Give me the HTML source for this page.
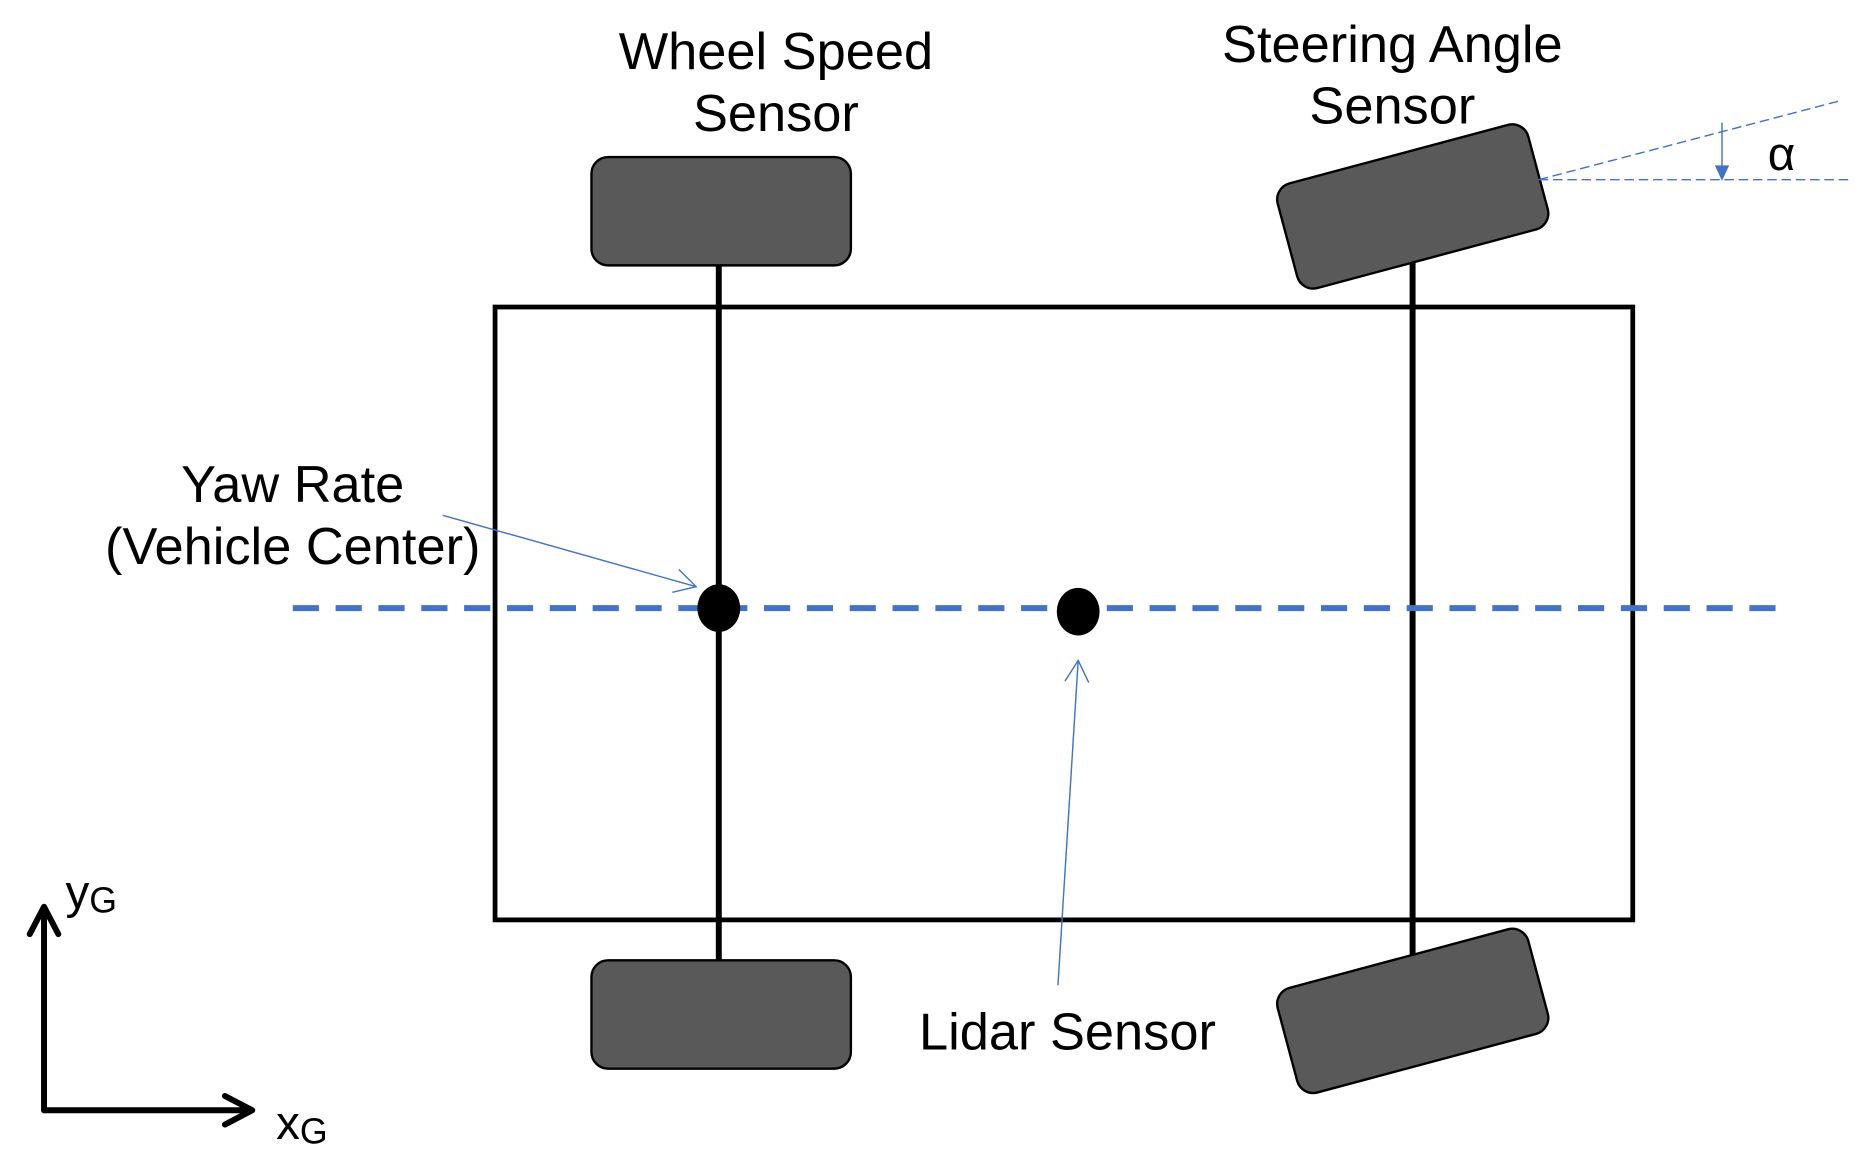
<!DOCTYPE html>
<html><head><meta charset="utf-8"><style>html,body{margin:0;padding:0;background:#fff;width:1866px;height:1163px;overflow:hidden}svg{display:block}text{font-family:"Liberation Sans","DejaVu Sans",sans-serif;fill:#000}</style></head><body>
<svg width="1866" height="1163" viewBox="0 0 1568 977.3" preserveAspectRatio="none" xmlns="http://www.w3.org/2000/svg">
<defs>
<marker id="open2" markerWidth="24" markerHeight="24" refX="20" refY="12" orient="auto" markerUnits="userSpaceOnUse"><path d="M2,2 L20,12 L2,22" fill="none" stroke="#4472C4" stroke-width="1.2"/></marker>
</defs>
<rect x="416" y="258" width="956" height="515" fill="none" stroke="#000" stroke-width="4"/>
<line x1="604" y1="223" x2="604" y2="807" stroke="#000" stroke-width="5"/>
<line x1="1187" y1="215" x2="1187" y2="805" stroke="#000" stroke-width="5"/>
<rect x="497" y="132" width="218" height="91" rx="14" fill="#595959" stroke="#000" stroke-width="2"/>
<rect x="497" y="807" width="218" height="91" rx="14" fill="#595959" stroke="#000" stroke-width="2"/>
<rect x="1078" y="128" width="218" height="91" rx="14" fill="#595959" stroke="#000" stroke-width="2" transform="rotate(-15 1187 173)"/>
<rect x="1078" y="804" width="218" height="91" rx="14" fill="#595959" stroke="#000" stroke-width="2" transform="rotate(-15 1187 849)"/>
<line x1="246" y1="511" x2="1500" y2="511" stroke="#4472C4" stroke-width="5" stroke-dasharray="22 14"/>
<ellipse cx="604" cy="511" rx="18" ry="20" fill="#000"/>
<ellipse cx="906" cy="514" rx="18" ry="20" fill="#000"/>
<line x1="372" y1="433" x2="585" y2="493" stroke="#4472C4" stroke-width="1.2" marker-end="url(#open2)"/>
<line x1="889" y1="828" x2="906" y2="555" stroke="#4472C4" stroke-width="1.2" marker-end="url(#open2)"/>
<line x1="1293" y1="151" x2="1555" y2="151" stroke="#4472C4" stroke-width="1.2" stroke-dasharray="8 4"/>
<line x1="1293" y1="151" x2="1545" y2="85" stroke="#4472C4" stroke-width="1.2" stroke-dasharray="8 4"/>
<line x1="1447" y1="103" x2="1447" y2="140" stroke="#4472C4" stroke-width="1.2"/>
<path d="M1441,139 L1453,139 L1447,152 Z" fill="#4472C4"/>
<text x="1497" y="143" font-size="40" text-anchor="middle">α</text>
<text x="652" y="58" font-size="44" text-anchor="middle">Wheel Speed</text>
<text x="652" y="110" font-size="44" text-anchor="middle">Sensor</text>
<text x="1170" y="52" font-size="44" text-anchor="middle">Steering Angle</text>
<text x="1170" y="104" font-size="44" text-anchor="middle">Sensor</text>
<text x="246" y="422" font-size="44" text-anchor="middle">Yaw Rate</text>
<text x="246" y="474" font-size="44" text-anchor="middle">(Vehicle Center)</text>
<text x="897" y="882" font-size="44" text-anchor="middle">Lidar Sensor</text>
<path d="M37,933 L37,762 M25,785 L37,762 L49,785" fill="none" stroke="#000" stroke-width="5" stroke-linecap="round" stroke-linejoin="round"/>
<path d="M37,933 L212,933 M189,921 L212,933 L189,945" fill="none" stroke="#000" stroke-width="5" stroke-linecap="round" stroke-linejoin="round"/>
<text x="55" y="763" font-size="40">y<tspan font-size="30" dy="4">G</tspan></text>
<text x="232" y="957" font-size="40">x<tspan font-size="30" dy="4">G</tspan></text>
</svg>
</body></html>
